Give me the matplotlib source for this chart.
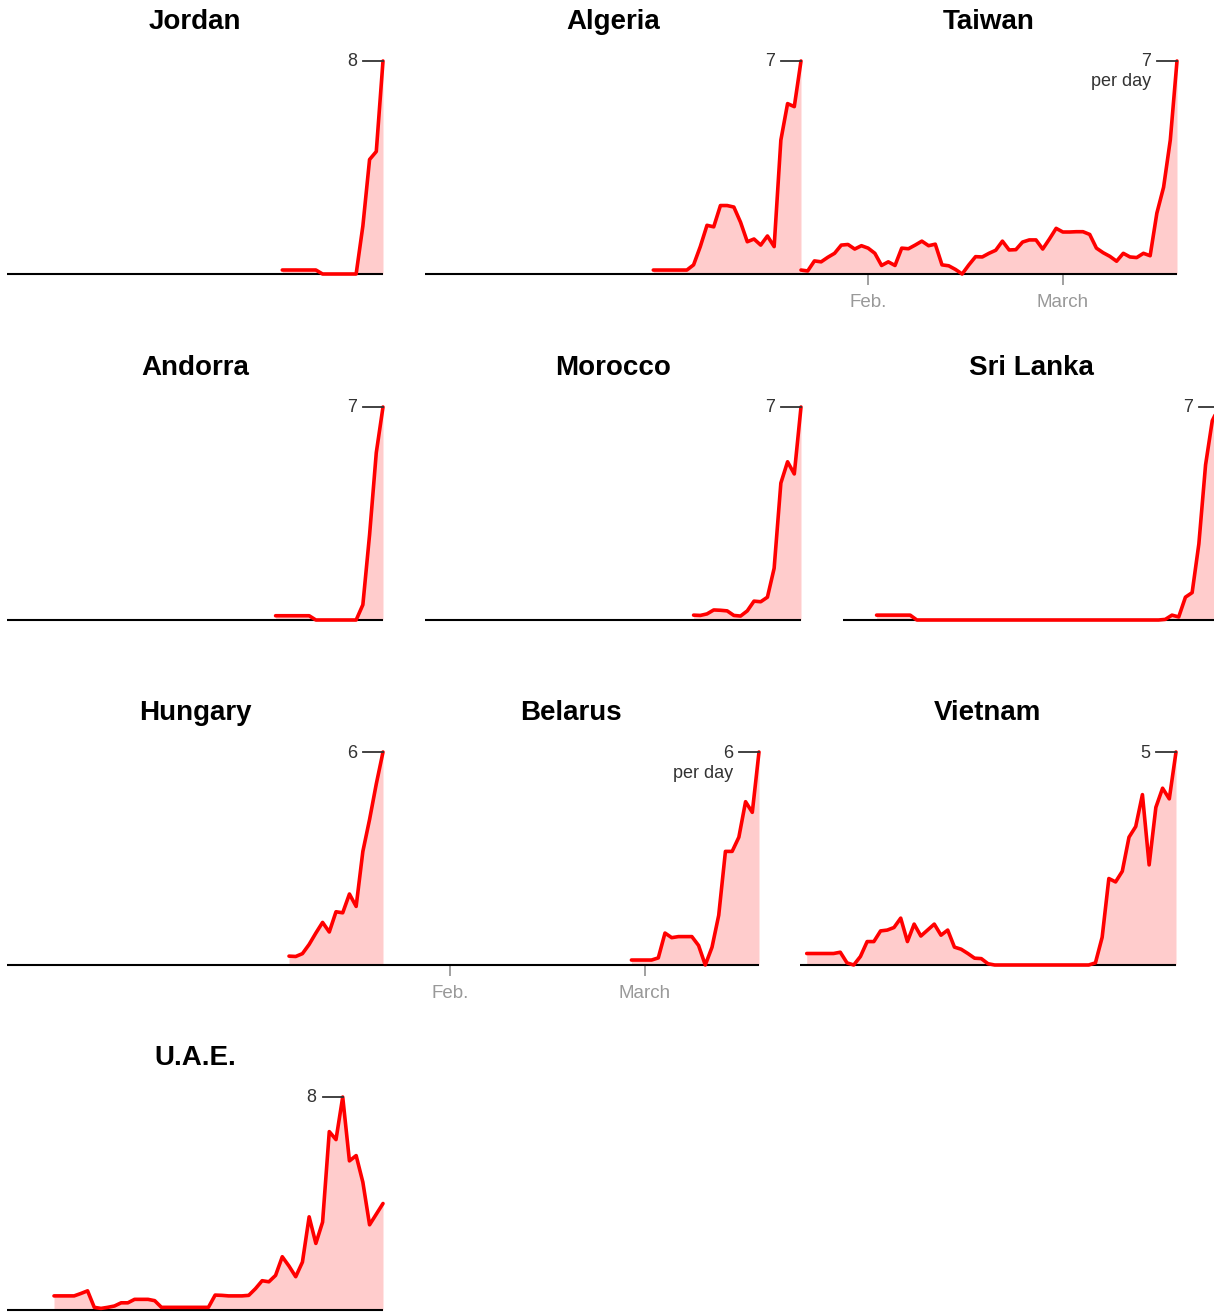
import matplotlib
matplotlib.use("Agg")
import matplotlib.pyplot as plt
from matplotlib.transforms import offset_copy

plt.rcParams['font.family'] = ['Liberation Sans', 'DejaVu Sans']

# days are counted from Jan. 22 (day 10 = Feb. 1, day 39 = March 1, day 56 = March 18)
countries = ["Jordan", "Algeria", "Taiwan", "Andorra", "Morocco", "Sri Lanka",
             "Hungary", "Belarus", "Vietnam", "U.A.E."]
first_day = [41, 34, 0, 40, 40, 5, 42, 37, 1, 7]
peak_label = [8, 7, 7, 7, 7, 7, 6, 6, 5, 8]
per_day_shown = ["Taiwan", "Belarus"]
tick_days = [10, 39]
tick_labels = ["Feb.", "March"]

jordan = [0.15, 0.15, 0.15, 0.15, 0.15, 0.15, 0, 0, 0, 0, 0, 0, 1.8, 4.3, 4.6, 8.0]
algeria = [0.13, 0.13, 0.13, 0.13, 0.13, 0.13, 0.3, 0.9, 1.6, 1.55, 2.25, 2.25, 2.2,
           1.7, 1.06, 1.15, 0.95, 1.25, 0.9, 4.4, 5.6, 5.5, 7.0]
taiwan = [0.13, 0.1, 0.43, 0.4, 0.55, 0.68, 0.95, 0.97, 0.82, 0.93,
          0.85, 0.68, 0.28, 0.4, 0.28, 0.85, 0.83, 0.95, 1.08, 0.93,
          0.98, 0.3, 0.27, 0.15, 0.0, 0.3, 0.57, 0.56, 0.68, 0.78,
          1.08, 0.79, 0.8, 1.05, 1.12, 1.12, 0.82, 1.15, 1.5, 1.38,
          1.38, 1.39, 1.39, 1.3, 0.85, 0.7, 0.58, 0.42, 0.68, 0.56,
          0.54, 0.68, 0.6, 2.0, 2.85, 4.4, 7.0]
andorra = [0.14, 0.14, 0.14, 0.14, 0.14, 0.14, 0, 0, 0, 0, 0, 0, 0, 0.5, 2.8, 5.5, 7.0]
morocco = [0.16, 0.15, 0.2, 0.33, 0.32, 0.3, 0.15, 0.13, 0.3, 0.62, 0.6, 0.75,
           1.7, 4.5, 5.2, 4.8, 7.0]
sri_lanka = [0.16] * 6 + [0] * 37 + [0.02, 0.16, 0.1, 0.75, 0.9, 2.5, 5.1, 6.55, 7.0]
hungary = [0.25, 0.24, 0.32, 0.58, 0.9, 1.2, 0.93, 1.5, 1.47, 2.0, 1.65, 3.2, 4.1, 5.1, 6.0]
belarus = [0.14, 0.14, 0.14, 0.14, 0.2, 0.9, 0.77, 0.8, 0.8, 0.8, 0.55, 0.0, 0.5, 1.4,
           3.2, 3.2, 3.6, 4.6, 4.3, 6.0]
vietnam = [0.27, 0.27, 0.27, 0.27, 0.27,
           0.3, 0.05, 0.0, 0.2, 0.55, 0.55, 0.8, 0.82, 0.88, 1.1, 0.55, 0.96, 0.68,
           0.82, 0.96, 0.7, 0.82, 0.42, 0.37, 0.27, 0.16, 0.15, 0.03] + [0] * 15 + \
          [0.05, 0.65, 2.03, 1.95, 2.2, 3.0, 3.25, 4.0, 2.35, 3.7, 4.15, 3.9, 5.0]
uae = [0.53, 0.53, 0.53, 0.53,
       0.62, 0.72, 0.1, 0.06, 0.1, 0.15, 0.27, 0.27, 0.4, 0.4, 0.4, 0.35, 0.1] + [0.1] * 7 + \
      [0.56, 0.55, 0.53, 0.53, 0.53, 0.55, 0.8, 1.1, 1.06, 1.3, 2.0, 1.65, 1.25, 1.8,
       3.5, 2.5, 3.3, 6.7, 6.4, 8.0, 5.6, 5.8, 4.8, 3.2, 3.6, 4.0]
series = [jordan, algeria, taiwan, andorra, morocco, sri_lanka, hungary, belarus, vietnam, uae]

# layout in pixels
W, H = 1214, 1313
panel_w, panel_h = 376, 213
lefts = [7, 425, 801, 7, 425, 843, 7, 383, 800, 7]
tops = [61, 61, 61, 407, 407, 407, 752, 752, 752, 1097]
n_days = 56
px_day = panel_w / n_days

fig = plt.figure(figsize=(W / 100, H / 100), dpi=100)

for name, start, top_val, vals, left, top in zip(countries, first_day, peak_label,
                                                 series, lefts, tops):
    ax = fig.add_axes([left / W, (H - top - panel_h) / H, panel_w / W, panel_h / H])
    days = list(range(start, start + len(vals)))
    ax.set_xlim(0, n_days)
    ax.set_ylim(0, top_val)
    ax.fill_between(days, vals, 0, color='#ffcccc', lw=0, zorder=1)
    ax.plot([0, n_days], [0, 0], color='black', lw=1.5, zorder=2, clip_on=False,
            solid_capstyle='butt')
    ax.plot(days, vals, color='#ff0000', lw=2.6, zorder=3, clip_on=False,
            solid_joinstyle='round', solid_capstyle='round')

    # peak label with a short leader
    peak_i = vals.index(max(vals))
    xm = days[peak_i]
    ax.plot([xm - 20 / px_day, xm], [top_val, top_val], color='#333333', lw=1.3,
            clip_on=False, zorder=4)
    ax.text(xm, top_val, str(top_val), ha='right', va='center', fontsize=13,
            color='#333333', transform=offset_copy(ax.transData, fig=fig, x=-26, y=-1,
                                                   units='dots'))
    if name in per_day_shown:
        ax.text(xm, top_val, "per day", ha='right', va='center', fontsize=13,
                color='#333333', transform=offset_copy(ax.transData, fig=fig, x=-26,
                                                       y=-21, units='dots'))
        ax.set_xticks(tick_days, tick_labels)
        ax.tick_params(axis='x', length=8, width=1.3, color='#999999',
                       labelcolor='#999999', labelsize=13.5, pad=6.5)
    else:
        ax.set_xticks([])
    ax.set_yticks([])
    for s in ax.spines.values():
        s.set_visible(False)
    ax.patch.set_alpha(0)

    fig.text((left + panel_w / 2) / W, 1 - (top - 39) / H, name, ha='center',
             va='center', fontsize=20, fontweight='bold', color='black')

fig.savefig("out.png", dpi=100)
